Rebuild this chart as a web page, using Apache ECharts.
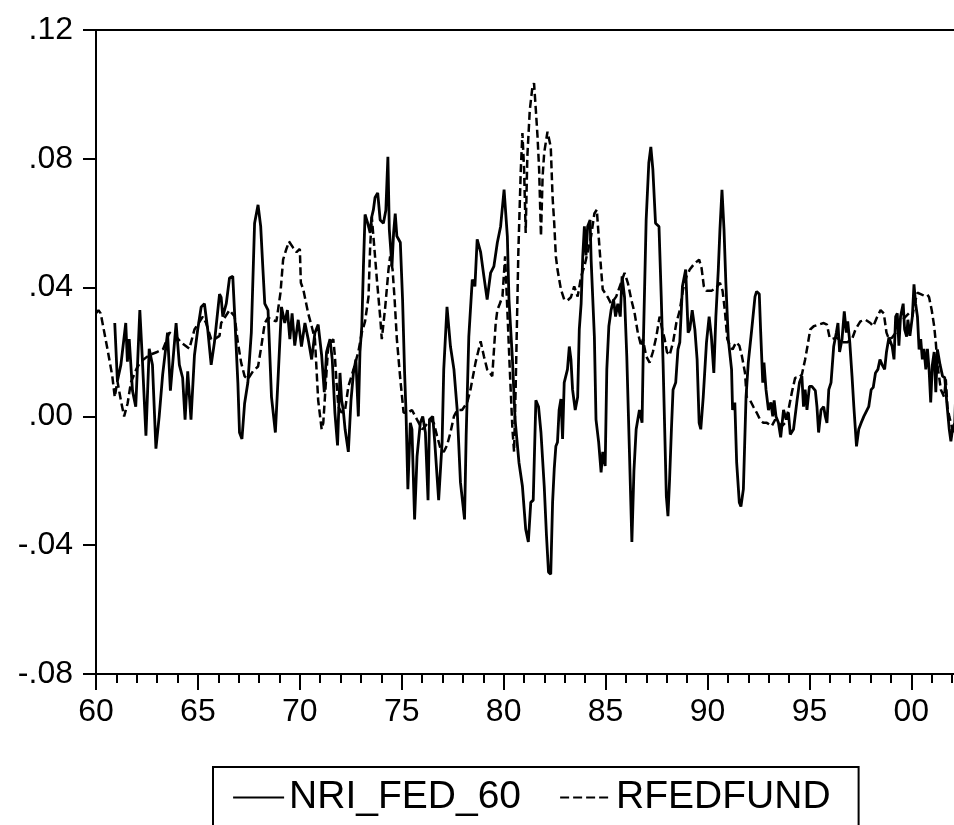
<!DOCTYPE html>
<html>
<head>
<meta charset="utf-8">
<script src="https://cdn.jsdelivr.net/npm/echarts@6/dist/echarts.min.js"></script>
<style>
html,body{margin:0;padding:0;background:#fff;}
#chart{width:954px;height:825px;}
</style>
</head>
<body>
<div id="chart"></div>
<script>
// ---- data (decimal years, values) ----
const nriYears = [1960.92,1961.05,1961.22,1961.46,1961.54,1961.63,1961.79,1961.95,1962.15,1962.28,1962.45,1962.61,1962.77,1962.94,1963.10,1963.27,1963.51,1963.65,1963.93,1964.09,1964.25,1964.37,1964.50,1964.66,1964.83,1964.99,1965.16,1965.32,1965.48,1965.65,1965.81,1966.06,1966.14,1966.22,1966.39,1966.55,1966.71,1966.80,1966.96,1967.04,1967.16,1967.29,1967.45,1967.62,1967.78,1967.95,1968.08,1968.19,1968.28,1968.44,1968.61,1968.80,1968.93,1969.10,1969.26,1969.39,1969.51,1969.62,1969.75,1969.92,1970.08,1970.25,1970.41,1970.58,1970.74,1970.90,1971.07,1971.20,1971.31,1971.48,1971.59,1971.72,1971.85,1971.97,1972.05,1972.13,1972.22,1972.38,1972.51,1972.63,1972.75,1972.87,1972.95,1973.04,1973.12,1973.20,1973.33,1973.45,1973.53,1973.61,1973.69,1973.82,1973.94,1974.10,1974.22,1974.32,1974.39,1974.52,1974.60,1974.68,1974.76,1974.93,1975.04,1975.14,1975.21,1975.30,1975.42,1975.50,1975.63,1975.75,1975.91,1976.03,1976.16,1976.29,1976.36,1976.52,1976.62,1976.81,1976.98,1977.06,1977.22,1977.39,1977.56,1977.72,1977.88,1978.08,1978.16,1978.29,1978.46,1978.59,1978.70,1978.87,1979.03,1979.19,1979.36,1979.52,1979.69,1979.85,1980.02,1980.10,1980.18,1980.26,1980.43,1980.56,1980.75,1980.92,1981.08,1981.21,1981.33,1981.45,1981.58,1981.71,1981.83,1981.99,1982.10,1982.20,1982.31,1982.40,1982.48,1982.56,1982.64,1982.72,1982.81,1982.89,1982.97,1983.13,1983.22,1983.30,1983.38,1983.51,1983.63,1983.71,1983.80,1983.88,1983.96,1984.04,1984.12,1984.24,1984.29,1984.45,1984.53,1984.66,1984.78,1984.86,1984.98,1985.06,1985.16,1985.27,1985.39,1985.49,1985.60,1985.72,1985.81,1985.93,1986.04,1986.17,1986.29,1986.39,1986.50,1986.66,1986.79,1986.86,1986.99,1987.12,1987.22,1987.32,1987.45,1987.62,1987.73,1987.82,1987.90,1987.98,1988.06,1988.14,1988.23,1988.31,1988.44,1988.55,1988.64,1988.77,1988.93,1989.05,1989.13,1989.25,1989.38,1989.49,1989.59,1989.67,1989.79,1989.95,1990.08,1990.19,1990.31,1990.41,1990.53,1990.61,1990.71,1990.81,1990.90,1991.02,1991.18,1991.23,1991.34,1991.43,1991.56,1991.64,1991.76,1991.89,1992.00,1992.17,1992.33,1992.41,1992.54,1992.61,1992.71,1992.77,1992.87,1992.99,1993.11,1993.20,1993.27,1993.36,1993.48,1993.59,1993.73,1993.86,1993.97,1994.06,1994.22,1994.38,1994.51,1994.63,1994.71,1994.79,1994.88,1995.00,1995.12,1995.29,1995.37,1995.45,1995.57,1995.70,1995.78,1995.86,1995.95,1996.06,1996.19,1996.32,1996.40,1996.48,1996.60,1996.71,1996.81,1996.88,1996.98,1997.09,1997.18,1997.31,1997.42,1997.54,1997.67,1997.83,1997.91,1998.03,1998.13,1998.24,1998.36,1998.46,1998.57,1998.69,1998.78,1998.90,1998.98,1999.06,1999.15,1999.23,1999.31,1999.39,1999.47,1999.60,1999.67,1999.77,1999.83,1999.93,2000.05,2000.13,2000.21,2000.30,2000.38,2000.46,2000.54,2000.62,2000.71,2000.79,2000.87,2000.95,2001.03,2001.12,2001.20,2001.28,2001.41,2001.53,2001.64,2001.74,2001.86,2001.94,2002.02,2002.13,2002.22];
const nriValues = [.029,.011,.016,.029,.017,.024,.008,.003,.033,.017,-.006,.021,.016,-.010,.000,.013,.026,.008,.029,.016,.012,-.001,.014,-.001,.019,.027,.034,.035,.027,.016,.023,.038,.037,.031,.035,.043,.0435,.032,.0105,-.005,-.007,.004,.0105,.026,.060,.0657,.059,.0456,.035,.033,.006,-.005,.0115,.034,.029,.033,.024,.032,.022,.030,.0217,.029,.024,.0177,.026,.0285,.019,.0075,.020,.024,.0177,.0012,-.009,.0135,.005,.002,-.004,-.011,.005,.0135,.0177,.000,.020,.028,.0466,.0627,.060,.057,.062,.0642,.068,.0694,.061,.060,.064,.0806,.058,.0466,.057,.063,.056,.054,.0363,.0135,.0012,-.0226,-.002,-.004,-.032,-.0124,-.002,.000,-.005,-.026,-.001,.000,-.008,-.026,-.008,.0146,.034,.0217,.0146,.002,-.0205,-.032,-.006,.0248,.0425,.0404,.055,.051,.0435,.0363,.0446,.0466,.054,.059,.0704,.071,.056,.0363,.0177,-.001,-.0143,-.0217,-.035,-.039,-.0267,-.026,.005,.003,-.005,-.0217,-.037,-.0484,-.049,-.0267,-.0164,-.0093,-.008,.002,.0054,-.007,.0105,.0146,.0217,.0177,.0083,.002,.006,.027,.035,.0497,.059,.050,.059,.061,.0487,.0248,-.001,-.008,-.0174,-.011,-.0154,.0146,.028,.033,.0363,.031,.035,.031,.0435,.037,.0187,-.011,-.039,-.017,-.004,.002,-.002,.0248,.061,.0787,.0837,.0766,.060,.059,.0372,.0167,-.004,-.0248,-.031,-.0195,-.004,.0083,.0105,.0208,.023,.0404,.0456,.026,.027,.033,.027,.0177,-.002,-.004,.006,.023,.031,.0248,.0135,.031,.0456,.058,.0704,.058,.0415,.024,.0146,.002,.0043,-.0143,-.0267,-.028,-.0226,.006,.0167,.027,.0372,.0388,.038,.026,.0105,.0167,.0083,.002,.0043,.000,.005,.000,-.002,-.0065,.002,-.001,.0012,-.0056,-.004,.0043,.0105,.0125,.003,.0083,.002,.0093,.0093,.008,.003,-.005,.002,.003,.000,-.002,.0083,.0105,.0217,.026,.029,.020,.024,.0326,.026,.0295,.023,.0125,.003,-.0093,-.004,-.002,.000,.002,.003,.0083,.009,.0135,.0146,.0177,.016,.0146,.020,.0245,.024,.0217,.0177,.031,.032,.022,.031,.035,.027,.0248,.030,.025,.031,.041,.035,.031,.0208,.024,.0177,.021,.0146,.021,.0146,.0043,.016,.020,.0075,.0208,.016,.0125,.012,.0043,-.004,-.0077,-.004,-.002,.0155];

const fedYears = [1960.00,1960.12,1960.23,1960.56,1960.80,1960.92,1961.05,1961.22,1961.38,1961.55,1961.71,1962.00,1962.20,1962.60,1963.00,1963.30,1963.60,1963.90,1964.17,1964.58,1964.83,1965.24,1965.40,1965.65,1965.81,1966.06,1966.14,1966.55,1966.80,1966.96,1967.12,1967.29,1967.45,1967.70,1967.95,1968.11,1968.28,1968.44,1968.61,1968.85,1969.05,1969.18,1969.34,1969.47,1969.67,1969.84,1970.00,1970.05,1970.17,1970.41,1970.58,1970.74,1970.90,1971.07,1971.15,1971.39,1971.64,1971.72,1971.80,1971.89,1972.05,1972.22,1972.38,1972.63,1972.87,1973.04,1973.20,1973.37,1973.45,1973.53,1973.66,1973.78,1973.94,1974.02,1974.19,1974.35,1974.43,1974.55,1974.65,1974.76,1974.93,1975.09,1975.26,1975.50,1975.75,1976.00,1976.16,1976.40,1976.57,1976.73,1976.90,1977.06,1977.22,1977.39,1977.56,1977.72,1977.96,1978.21,1978.37,1978.62,1978.87,1979.03,1979.19,1979.44,1979.61,1979.69,1979.81,1979.94,1980.07,1980.18,1980.30,1980.43,1980.51,1980.59,1980.72,1980.84,1980.92,1981.00,1981.08,1981.16,1981.28,1981.41,1981.49,1981.58,1981.66,1981.74,1981.83,1981.91,1981.99,1982.15,1982.31,1982.40,1982.48,1982.56,1982.64,1982.81,1982.97,1983.13,1983.30,1983.46,1983.63,1983.80,1983.96,1984.12,1984.29,1984.45,1984.57,1984.66,1984.78,1984.86,1985.11,1985.27,1985.52,1985.76,1985.93,1986.09,1986.26,1986.42,1986.58,1986.75,1986.83,1986.99,1987.16,1987.32,1987.49,1987.65,1987.78,1987.90,1988.01,1988.14,1988.31,1988.47,1988.64,1988.80,1988.97,1989.13,1989.30,1989.46,1989.59,1989.71,1989.82,1989.95,1990.20,1990.44,1990.61,1990.74,1990.85,1990.97,1991.10,1991.23,1991.40,1991.56,1991.68,1991.84,1991.92,1992.09,1992.25,1992.41,1992.58,1992.74,1992.91,1993.15,1993.32,1993.48,1993.65,1993.81,1993.97,1994.14,1994.30,1994.47,1994.63,1994.79,1994.91,1995.04,1995.21,1995.45,1995.70,1995.86,1995.99,1996.11,1996.35,1996.60,1996.85,1997.09,1997.26,1997.50,1997.75,1997.99,1998.13,1998.33,1998.49,1998.65,1998.78,1998.90,1999.06,1999.23,1999.39,1999.56,1999.72,1999.88,2000.05,2000.16,2000.30,2000.46,2000.62,2000.79,2000.87,2001.00,2001.12,2001.20,2001.28,2001.45,2001.61,2001.69,2001.77,2001.86,2002.02,2002.22];
const fedValues = [.032,.033,.032,.021,.0125,.006,.011,.005,.000,.004,.0105,.015,.017,.019,.020,.021,.026,.025,.023,.021,.027,.031,.029,.024,.024,.025,.029,.033,.031,.023,.0167,.0125,.0115,.014,.0155,.0217,.029,.0307,.030,.0295,.0384,.0487,.052,.0543,.0524,.051,.052,.0415,.0394,.032,.028,.024,.005,-.004,-.002,.0217,.024,.0187,.0105,.003,.0012,.002,.0093,.0145,.020,.026,.0295,.0372,.0527,.062,.052,.0425,.031,.024,.034,.0456,.0497,.0456,.0363,.024,.0115,.0012,.001,.002,-.001,-.004,-.003,-.001,-.002,-.006,-.010,-.011,-.009,-.005,.000,.002,.002,.0043,.0083,.0167,.0233,.0187,.0146,.0125,.029,.033,.035,.0372,.0497,.033,.0146,-.004,-.011,.0093,.051,.0766,.088,.077,.057,.0806,.095,.1023,.1035,.095,.087,.0766,.056,.0745,.082,.0884,.0837,.068,.060,.0497,.0456,.0394,.0363,.036,.037,.0404,.0372,.0435,.0466,.051,.056,.063,.0642,.056,.0456,.0394,.037,.035,.0372,.0415,.0446,.0415,.0363,.0322,.026,.0217,.024,.0187,.0167,.020,.0248,.031,.027,.024,.020,.019,.023,.029,.033,.0394,.0435,.0456,.047,.048,.0487,.046,.0404,.039,.039,.040,.0415,.039,.033,.024,.022,.0208,.023,.022,.019,.0135,.006,.005,.003,.0012,-.001,-.002,-.002,-.003,-.001,-.002,-.003,-.002,.002,.0075,.012,.012,.013,.0177,.022,.027,.028,.0285,.029,.0285,.0245,.024,.0245,.023,.023,.024,.027,.0295,.030,.029,.028,.031,.033,.032,.026,.024,.0245,.026,.029,.030,.031,.032,.031,.035,.0384,.038,.0375,.0378,.037,.033,.028,.023,.016,.0083,.006,.0115,.003,.000,-.004,-.006];

const yTicks = [-0.08, -0.04, 0, 0.04, 0.08, 0.12];
const xMajorLabels = ['60','65','70','75','80','85','90','95','00'];
const seriesNames = ['NRI_FED_60', 'RFEDFUND'];

const FONT = 'Liberation Sans, Arial, Helvetica, sans-serif';
const X_MIN = 1960, X_MAX = 2002.24;

function pairs(xs, ys) { return xs.map((x, i) => [x, ys[i]]); }
function yLabel(v) {
  const r = Math.round(v * 100) / 100;
  const s = Math.abs(r).toFixed(2).replace(/^0/, '');
  return (r < 0 ? '-' : '') + s;
}

const SOLID = { color: '#000', width: 2.8, type: 'solid' };
const DASH = { color: '#000', width: 2.5, type: [8, 4] };

const chart = echarts.init(document.getElementById('chart'), null, { renderer: 'canvas' });
chart.setOption({
  animation: false,
  backgroundColor: '#fff',
  grid: {
    left: 96, top: 30, right: -3, bottom: 151,
    containLabel: false, outerBoundsMode: 'none',
    show: true, borderColor: '#000', borderWidth: 2, backgroundColor: 'transparent'
  },
  xAxis: [{
    type: 'value', position: 'bottom', min: X_MIN, max: X_MAX, interval: 5,
    axisLine: { show: true, onZero: false, lineStyle: { color: '#000', width: 2 } },
    axisTick: { show: true, length: 16, lineStyle: { color: '#000', width: 2 } },
    axisLabel: {
      show: true, margin: 22, color: '#000', fontSize: 32, fontFamily: FONT,
      showMaxLabel: false, showMinLabel: true,
      formatter: v => xMajorLabels[Math.round((v - X_MIN) / 5)] || ''
    },
    splitLine: { show: false }
  }, {
    type: 'value', position: 'bottom', offset: 0, min: X_MIN, max: X_MAX, interval: 1,
    axisLine: { show: false, onZero: false },
    axisTick: { show: true, length: 9, lineStyle: { color: '#000', width: 2 } },
    axisLabel: { show: false },
    splitLine: { show: false }
  }],
  yAxis: {
    type: 'value', min: yTicks[0], max: yTicks[yTicks.length - 1], interval: 0.04,
    axisLine: { show: true, onZero: false, lineStyle: { color: '#000', width: 2 } },
    axisTick: { show: true, length: 13, lineStyle: { color: '#000', width: 2 } },
    axisLabel: { show: true, margin: 23, color: '#000', fontSize: 32, fontFamily: FONT, formatter: yLabel },
    splitLine: { show: false }
  },
  legend: {
    data: [
      { name: seriesNames[0], lineStyle: { color: '#000', width: 2.2, type: 'solid' } },
      { name: seriesNames[1], lineStyle: { color: '#000', width: 2.2, type: [9, 4] } }
    ],
    left: 213, top: 767,
    orient: 'horizontal',
    padding: [11, 28, 16, 19],
    itemWidth: 51, itemHeight: 14, itemGap: 38,
    borderColor: '#000', borderWidth: 2,
    itemStyle: { opacity: 0, borderWidth: 0 },
    textStyle: { color: '#000', fontSize: 39, fontFamily: FONT }
  },
  series: [{
    name: seriesNames[0], type: 'line', xAxisIndex: 0, data: pairs(nriYears, nriValues),
    symbol: 'none', showSymbol: false, smooth: false,
    lineStyle: SOLID, itemStyle: { color: '#000' }
  }, {
    name: seriesNames[1], type: 'line', xAxisIndex: 0, data: pairs(fedYears, fedValues),
    symbol: 'none', showSymbol: false, smooth: false,
    lineStyle: DASH, itemStyle: { color: '#000' }
  }]
});
</script>
</body>
</html>
